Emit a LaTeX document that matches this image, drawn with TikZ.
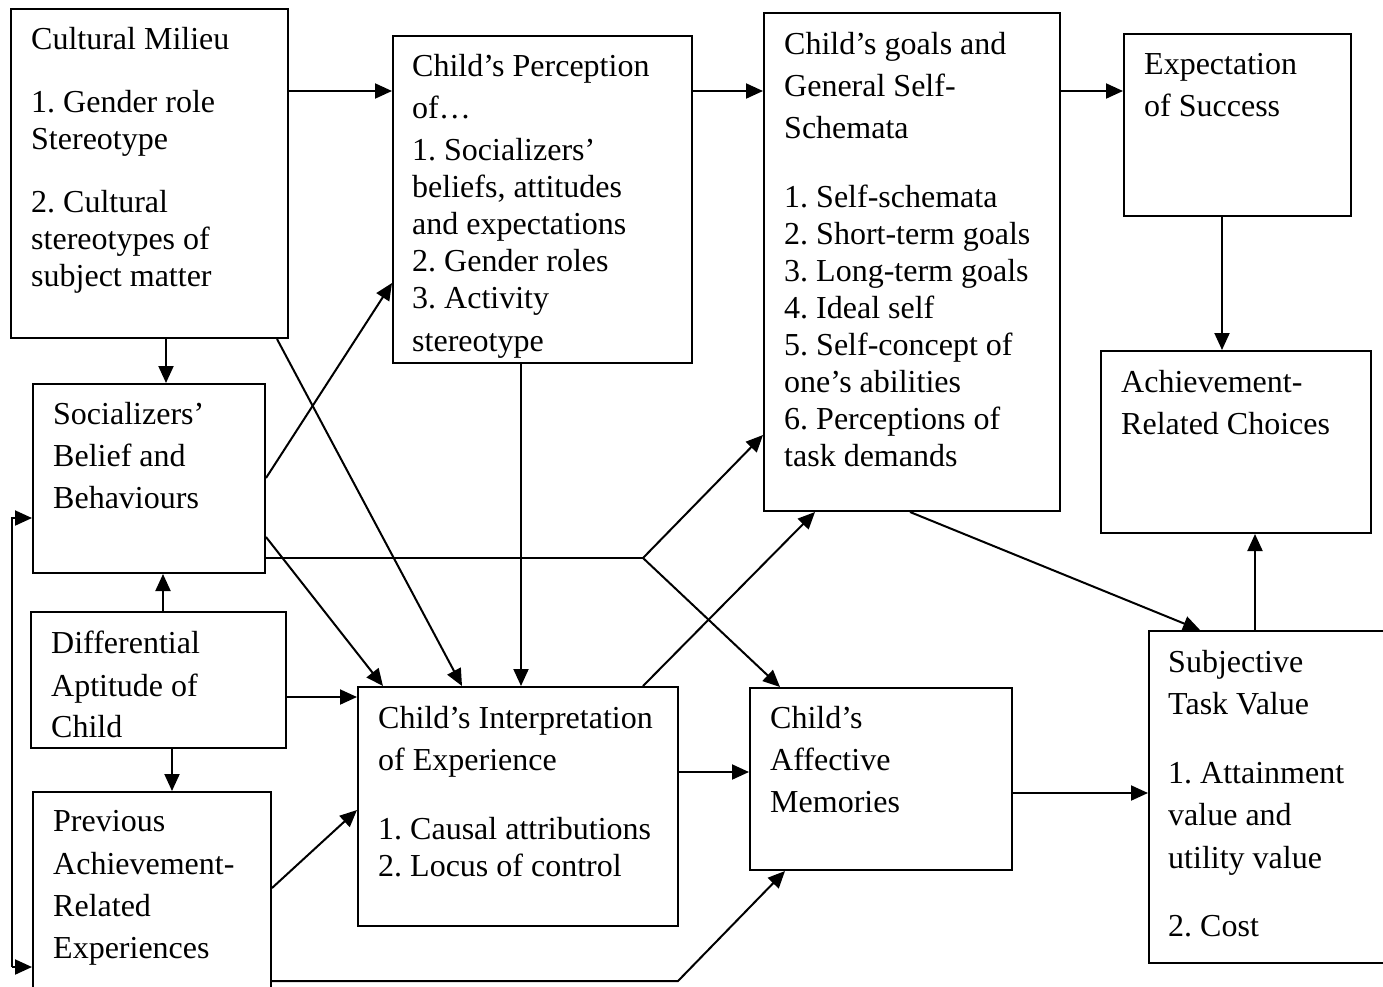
\documentclass[tikz,border=0pt]{standalone}
\usepackage{fontspec}
\setmainfont{Liberation Serif}
\usetikzlibrary{arrows.meta}
\frenchspacing
\tikzset{
  box/.style={draw,line width=2pt,inner sep=0pt,anchor=north west},
  txt/.style={anchor=north west,inner sep=0pt,align=left,font=\fontsize{32}{37}\selectfont},
  arr/.style={-{Triangle[length=17pt,width=15pt]},line width=2pt}
}

\begin{document}
\begin{tikzpicture}[line cap=butt,line join=miter,x=1pt,y=-1pt]
	\useasboundingbox (0,0) rectangle (1383,986);
	\clip (0,0) rectangle (1383,986);
		% boxes
		\node[box,minimum width=277pt,minimum height=329pt] (milieu) at (10,8) {};
		\node[box,minimum width=299pt,minimum height=327pt] (perception) at (392,35) {};
		\node[box,minimum width=296pt,minimum height=498pt] (goals) at (763,12) {};
		\node[box,minimum width=227pt,minimum height=182pt] (expect) at (1123,33) {};
		\node[box,minimum width=270pt,minimum height=182pt] (achieve) at (1100,350) {};
		\node[box,minimum width=232pt,minimum height=189pt] (socializers) at (32,383) {};
		\node[box,minimum width=255pt,minimum height=136pt] (differential) at (30,611) {};
		\node[box,minimum width=238pt,minimum height=220pt] (previous) at (32,791) {};
		\node[box,minimum width=320pt,minimum height=239pt] (interp) at (357,686) {};
		\node[box,minimum width=262pt,minimum height=182pt] (affective) at (749,687) {};
		\node[box,minimum width=260pt,minimum height=332pt] (subjective) at (1148,630) {};
		% texts
		\node[txt] (milieutxt) at (31,27) {Cultural Milieu\\[26pt]1. Gender role\\Stereotype\\[26pt]2. Cultural\\stereotypes of\\subject matter};
		\node[txt] (perceptiontxt) at (412,54) {Child’s Perception\\[5pt]of…\\[5pt]1. Socializers’\\beliefs, attitudes\\and expectations\\2. Gender roles\\3. Activity\\[6pt]stereotype};
		\node[txt] (goalstxt) at (784,32) {Child’s goals and\\[5pt]General Self-\\[5pt]Schemata\\[32pt]1. Self-schemata\\2. Short-term goals\\3. Long-term goals\\4. Ideal self\\5. Self-concept of\\one’s abilities\\6. Perceptions of\\task demands};
		\node[txt] (expecttxt) at (1144,53) {Expectation\\[5pt]of Success};
		\node[txt] (achievetxt) at (1121,370) {Achievement-\\[5pt]Related Choices};
		\node[txt] (socializerstxt) at (53,402) {Socializers’\\[5pt]Belief and\\[5pt]Behaviours};
		\node[txt] (differentialtxt) at (51,631) {Differential\\[6pt]Aptitude of\\[4pt]Child};
		\node[txt] (previoustxt) at (53,810) {Previous\\[6pt]Achievement-\\[5pt]Related\\[5pt]Experiences};
		\node[txt] (interptxt) at (378,706) {Child’s Interpretation\\[5pt]of Experience\\[32pt]1. Causal attributions\\2. Locus of control};
		\node[txt] (affectivetxt) at (770,706) {Child’s\\[5pt]Affective\\[5pt]Memories};
		\node[txt] (subjectivetxt) at (1168,650) {Subjective\\[5pt]Task Value\\[32pt]1. Attainment\\[5pt]value and\\[6pt]utility value\\[31pt]2. Cost};
		% top row
		\draw[arr] (milieu.east |- 0,91) -- (perception.west |- 0,91);
		\draw[arr] (perception.east |- 0,91) -- (goals.west |- 0,91);
		\draw[arr] (goals.east |- 0,91) -- (expect.west |- 0,91);
		\draw[arr] (expect.south -| 1222,0) -- (achieve.north -| 1222,0);
		\draw[arr] (subjective.north -| 1255,0) -- (achieve.south -| 1255,0);
		% left column
		\draw[arr] (milieu.south -| 166,0) -- (socializers.north -| 166,0);
		\draw[arr] (differential.north -| 163,0) -- (socializers.south -| 163,0);
		\draw[arr] (differential.south -| 172,0) -- (previous.north -| 172,0);
		% into interpretation
		\draw[arr] (milieu.south -| 277,0) -- (interp.north -| 462,0);
		\draw[arr] (socializers.east |- 0,537) -- (interp.north -| 383,0);
		\draw[arr] (perception.south -| 521,0) -- (interp.north -| 521,0);
		\draw[arr] (differential.east |- 0,697) -- (interp.west |- 0,697);
		\draw[arr] (previous.east |- 0,888) -- (interp.west |- 0,810);
		% socializers outward
		\draw[arr] (socializers.east |- 0,478) -- (perception.west |- 0,283);
		\coordinate (fork) at (643,558);
		\draw[line width=2pt] (socializers.east |- fork) -- (fork);
		\draw[arr] (fork) -- (goals.west |- 0,435);
		\draw[arr] (fork) -- (affective.north -| 780,0);
		% middle and right
		\draw[arr] (interp.north -| 643,0) -- (goals.south -| 815,0);
		\draw[arr] (interp.east |- 0,772) -- (affective.west |- 0,772);
		\draw[arr] (affective.east |- 0,793) -- (subjective.west |- 0,793);
		\draw[arr] (goals.south -| 910,0) -- (subjective.north -| 1200,0);
		\coordinate (bend) at (678,981);
		\draw[arr] (previous.east |- bend) -- (bend) -- (affective.south -| 785,0);
		% feedback loop
		\coordinate (loop) at (12,967);
		\draw[arr] (loop) -- (loop |- 0,518) -- (socializers.west |- 0,518);
		\draw[arr] (loop) -- (previous.west |- loop);
\end{tikzpicture}
\end{document}
